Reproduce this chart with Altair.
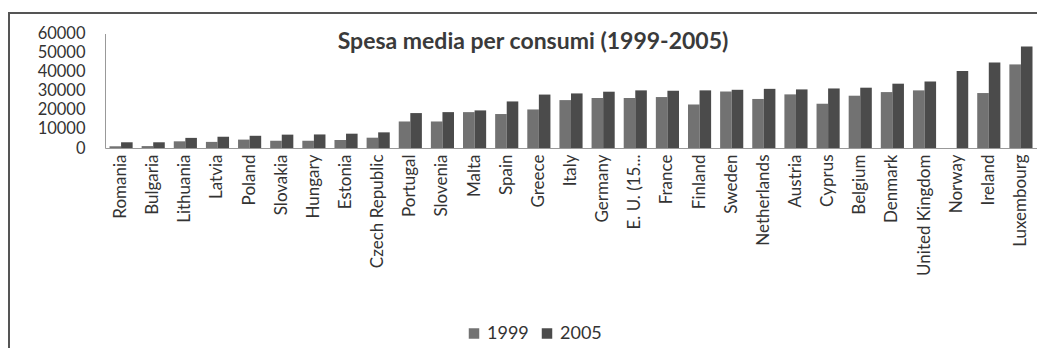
import altair as alt
import pandas as pd

countries = ["Romania", "Bulgaria", "Lithuania", "Latvia", "Poland", "Slovakia",
             "Hungary", "Estonia", "Czech Republic", "Portugal", "Slovenia", "Malta",
             "Spain", "Greece", "Italy", "Germany", "E. U. (15...", "France", "Finland",
             "Sweden", "Netherlands", "Austria", "Cyprus", "Belgium", "Denmark",
             "United Kingdom", "Norway", "Ireland", "Luxembourg"]
v1999 = [900, 1000, 3500, 3200, 4400, 3800, 3800, 4200, 5400, 13900, 13900, 18800,
         17800, 20200, 25100, 26200, 26200, 26700, 22800, 29600, 25700, 28100, 23200,
         27400, 29300, 30200, None, 28800, 43800]
v2005 = [3000, 3000, 5300, 5900, 6400, 7000, 7100, 7500, 8200, 18300, 18800, 19700,
         24400, 28000, 28600, 29500, 30200, 30000, 30200, 30500, 31000, 30700, 31200,
         31600, 33700, 34900, 40300, 44800, 53200]
years = ["1999", "2005"]
y_ticks = [0, 10000, 20000, 30000, 40000, 50000, 60000]
title_text = "Spesa media per consumi (1999-2005)"

rows = []
for c, a, b in zip(countries, v1999, v2005):
    rows.append({"country": c, "year": years[0], "value": a})
    rows.append({"country": c, "year": years[1], "value": b})
df = pd.DataFrame(rows)

FONT = "Lato"

bars = alt.Chart(df).mark_bar().encode(
    x=alt.X("country:N", sort=countries,
            scale=alt.Scale(paddingInner=0.28, paddingOuter=0.14),
            axis=alt.Axis(title=None, labelAngle=-90, labelFontSize=17, labelColor="#333",
                          labelFont=FONT, ticks=False, domainColor="#999",
                          labelPadding=6, labelLimit=300)),
    xOffset=alt.XOffset("year:N", sort=years),
    y=alt.Y("value:Q", scale=alt.Scale(domain=[0, 60000], nice=False),
            axis=alt.Axis(values=y_ticks, title=None, grid=False, ticks=False,
                          labelPadding=20, domainColor="#999", format="d",
                          labelFontSize=16.5, labelColor="#333", labelFont=FONT)),
    color=alt.Color("year:N", scale=alt.Scale(domain=years, range=["#727272", "#4b4b4b"]),
                    legend=alt.Legend(title=None, orient="none", direction="horizontal",
                                      legendX=360, legendY=291, symbolType="square",
                                      symbolSize=110, symbolStrokeWidth=0,
                                      labelFontSize=18, labelFont=FONT, labelColor="#333",
                                      columnPadding=9, labelOffset=4)),
)

frame = alt.Chart(alt.Data(values=[{}])).mark_rect(
    fillOpacity=0, stroke="#555", strokeWidth=2
).encode(
    x=alt.value(-96), x2=alt.value(960), y=alt.value(-20.5), y2=alt.value(400)
)

title = alt.Chart(alt.Data(values=[{"t": title_text}])).mark_text(
    font=FONT, fontSize=23, fontWeight="bold", color="#3a3a3a", align="center", baseline="middle"
).encode(
    text="t:N", x=alt.value(428), y=alt.value(8)
)

chart = alt.layer(frame, bars, title).properties(
    width=932, height=114.5,
    autosize=alt.AutoSizeParams(type="none"),
    padding={"left": 97, "top": 25.5, "right": 0, "bottom": 200},
).configure_view(stroke=None)

chart.save("out.html", embed_options={"renderer": "svg", "actions": False})
